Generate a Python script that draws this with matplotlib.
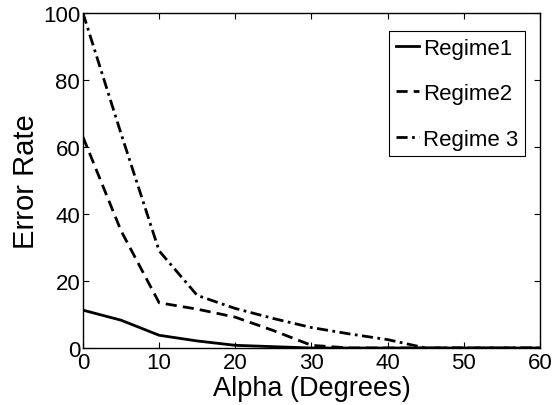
import matplotlib
matplotlib.use("Agg")
import matplotlib.pyplot as plt

alpha = [0, 5, 10, 15, 20, 25, 30, 35, 40, 45, 50, 55, 60]
regime1 = [11.3, 8.3, 3.8, 2.1, 0.8, 0.4, 0.0, 0.0, 0.0, 0.0, 0.0, 0.0, 0.0]
regime2 = [63, 35, 13.5, 11.6, 9.2, 5.2, 0.8, 0.0, 0.0, 0.0, 0.0, 0.0, 0.0]
regime3 = [100, 64, 29, 15.7, 11.8, 8.8, 6.1, 4.2, 2.5, 0.0, 0.0, 0.0, 0.0]
labels = ["Regime1", "Regime2", "Regime 3"]

plt.rcParams["font.family"] = ["Liberation Sans", "DejaVu Sans"]

fig = plt.figure(figsize=(5.53, 4.06), dpi=100)
ax = fig.add_axes([0.150, 0.1404, 0.8265, 0.8251])

ax.plot(alpha, regime1, color="black", lw=2.0, linestyle="-", label=labels[0])
ax.plot(alpha, regime2, color="black", lw=2.0, linestyle=(0, (4, 2.2)), label=labels[1])
ax.plot(alpha, regime3, color="black", lw=2.0, linestyle=(0, (4, 1.6, 1, 1.6)), label=labels[2])

ax.set_xlim(0, 60)
ax.set_ylim(0, 100)
ax.set_xticks(range(0, 61, 10))
ax.set_yticks(range(0, 101, 20))
ax.tick_params(direction="in", top=True, right=True, length=4.5, width=0.8,
               labelsize=16)
ax.tick_params(axis="x", pad=3)
ax.tick_params(axis="y", pad=2)
for s in ax.spines.values():
    s.set_linewidth(1.0)

ax.set_xlabel("Alpha (Degrees)", fontsize=19.5, labelpad=1)
ax.set_ylabel("Error Rate", fontsize=21, labelpad=2)

leg = ax.legend(loc="upper right", bbox_to_anchor=(0.968, 0.946), fontsize=16,
                handlelength=1.05, handletextpad=0.2, borderpad=0.3,
                labelspacing=1.1, borderaxespad=0, fancybox=False,
                framealpha=1, edgecolor="black")
leg.get_frame().set_linewidth(0.8)

fig.savefig("out.png", dpi=100)
